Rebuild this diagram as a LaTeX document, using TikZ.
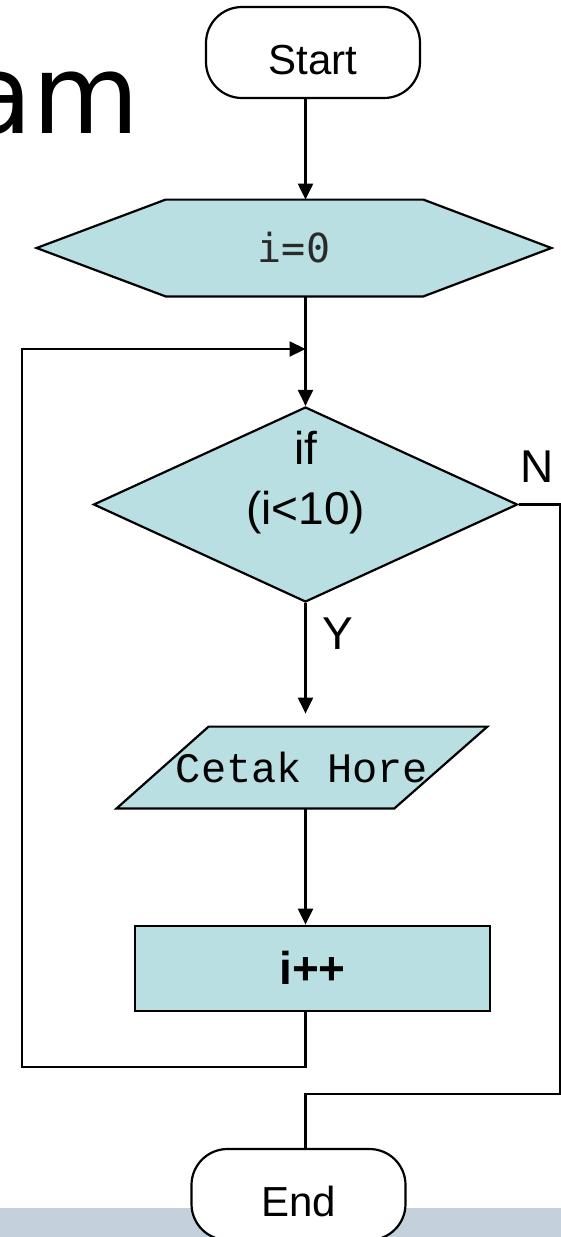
\documentclass[tikz,border=0pt]{standalone}
\usepackage{fontspec}
\setmainfont{Liberation Sans}
\newfontfamily\codefont{DejaVu Sans Mono}
\newfontfamily\printfont{Liberation Mono}
\newfontfamily\titlefont{DejaVu Sans}
\definecolor{flowfill}{HTML}{B9DFE3}
\definecolor{slidebar}{HTML}{C4D0DC}
\definecolor{codeink}{HTML}{2A2A2A}
\usetikzlibrary{arrows.meta, calc, shapes.geometric, backgrounds}
\tikzset{
  term/.style={draw, fill=white, line width=1.1pt, rounded corners=18pt, minimum width=107pt,
               minimum height=45.5pt, inner sep=0pt, font=\fontsize{21}{25}\selectfont,
               text height=22pt, text depth=0pt},
  shapebox/.style={draw, fill=flowfill, line width=1.1pt},
  flow/.style={-{Triangle[length=8pt,width=7.5pt]}, line width=1.1pt},
  link/.style={line width=1.1pt},
  lbl/.style={font=\fontsize{23}{30}\selectfont, inner sep=0pt},
}

\begin{document}
\begin{tikzpicture}[x=0.5pt,y=-0.5pt]
        \useasboundingbox (0,0) rectangle (561,1237);
        \node[font=\titlefont\fontsize{55}{60}\selectfont, anchor=base east, inner sep=0pt] (title) at (140,133) {am};
        \coordinate (spine) at (305.5,0);
        \node[term] (start) at (313,52.5) {Start};
        \node[minimum width=257pt, minimum height=48pt, inner sep=0pt, text=codeink, font=\codefont\fontsize{20}{24}\selectfont] (init) at (294,248) {i=0};
        \node[diamond, shapebox, minimum width=212pt, minimum height=97.5pt, inner sep=0pt] (cond) at (305.5,504.5) {};
        \node[lbl, align=center] (condlbl) at (305.5,483) {if\\(i<10)};
        \node[minimum width=185pt, minimum height=40.5pt, inner sep=0pt, font=\printfont\fontsize{21}{25}\selectfont] (print) at (302,767.5) {Cetak Hore};
        \node[shapebox, minimum width=177.5pt, minimum height=42.5pt, inner sep=0pt, font=\bfseries\fontsize{23}{28}\selectfont] (ipp) at (312.5,968.2) {i++};
        \node[term] (end) at (298.5,1194.5) {End};
        \begin{scope}[on background layer]
          \fill[slidebar] (0,1208) rectangle (561,1237);
          \draw[shapebox] (init.west) -- ($(init.north west)+(129,0)$) -- ($(init.north east)-(128,0)$) -- (init.east)
            -- ($(init.south east)-(128,0)$) -- ($(init.south west)+(129,0)$) -- cycle;
          \draw[shapebox] (print.south west) -- ($(print.north west)+(92,0)$) -- (print.north east) -- ($(print.south east)-(93,0)$) -- cycle;
        \end{scope}
        % connectors
        \coordinate (join) at (305.5,349);
        \coordinate (loopbot) at (21.7,1066.7);
        \coordinate (nright) at (560,1094);
        \draw[flow] (start.south -| spine) -- (init.north -| spine);
        \draw[flow] (init.south -| spine) -- (cond.north);
        \draw[flow, shorten >=6.5pt] (cond.south) -- (print.north -| spine);
        \draw[flow] (print.south -| spine) -- (ipp.north -| spine);
        \draw[flow] (ipp.south -| spine) |- (loopbot) |- (join);
        \draw[link] (cond.east) -| (nright) -| (end.north -| spine);
        \node[lbl] (ylbl) at (338,634) {Y};
        \node[lbl] (nlbl) at (537.5,467) {N};
      \end{tikzpicture}
\end{document}
